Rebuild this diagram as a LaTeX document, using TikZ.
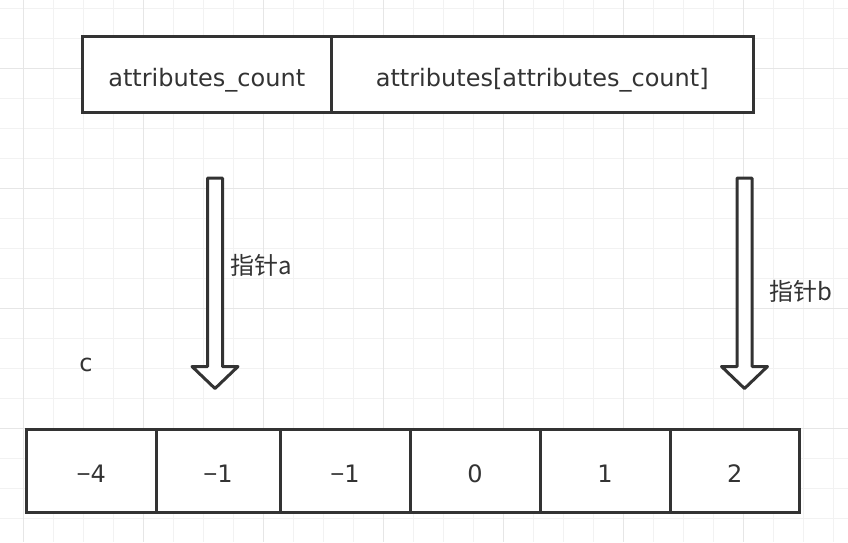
\documentclass[tikz,border=0pt]{standalone}
\usepackage{fontspec}
\setmainfont{DejaVu Sans}
\newfontfamily\cjk{Noto Sans CJK SC}
\newfontfamily\dashfont{Liberation Sans}
\newcommand\negval[1]{{\dashfont\char"2212}#1}
\definecolor{ink}{HTML}{333333}
\definecolor{gridminor}{HTML}{F2F2F2}
\definecolor{gridmajor}{HTML}{E6E6E6}
\tikzset{
  field/.style={draw=ink, fill=white, line width=3pt, minimum height=76pt,
    inner sep=0pt, text=ink, text height=23pt, text depth=0pt,
    font=\fontsize{24}{28}\selectfont},
  cell/.style={field, minimum height=83pt},
  pointer/.style={draw=ink, fill=white, line width=3pt, line join=round},
  tag/.style={text=ink, inner sep=0pt, font=\cjk\fontsize{24}{28}\selectfont}
}
\begin{document}
\begin{tikzpicture}[x=1pt,y=-1pt]
  \useasboundingbox (0,0) rectangle (848,542);
  % grid
  \foreach \gx in {23,53,...,833}
    \draw[gridminor, line width=1pt] (\gx,0) -- (\gx,542);
  \foreach \gy in {8,38,...,538}
    \draw[gridminor, line width=1pt] (0,\gy) -- (848,\gy);
  \foreach \gx in {23,143,...,743}
    \draw[gridmajor, line width=1pt] (\gx,0) -- (\gx,542);
  \foreach \gy in {68,188,308,428}
    \draw[gridmajor, line width=1pt] (0,\gy) -- (848,\gy);

  % attribute table
  \node[field, minimum width=248.5pt] (count) at (206.75,74.5) {attributes\_count};
  \node[field, minimum width=422.5pt] (attrs) at (542.25,74.5) {attributes[attributes\_count]};

  % array c
  \foreach \l/\r/\v [count=\i] in {26.5/156/{\negval4},156/280/{\negval1},280/410/{\negval1},410/540/0,540/670/1,670/799.5/2}
    \node[cell, minimum width={(\r-\l)*1pt}] (c\i) at ({(\l+\r)/2},471) {\v};
  \node[tag, font=\fontsize{24}{28}\selectfont] (cname) at (86,365) {c};

  % pointers
  \foreach \px in {215,744.5}
    \draw[pointer] ({\px-7.5},178.2) -- ({\px+7.5},178.2) -- ({\px+7.5},366.5)
      -- ({\px+23},366.5) -- (\px,388.5) -- ({\px-23},366.5)
      -- ({\px-7.5},366.5) -- cycle;
  \node[tag] (pa) at (261,265) {指针a};
  \node[tag] (pb) at (801,291) {指针b};
\end{tikzpicture}
\end{document}
